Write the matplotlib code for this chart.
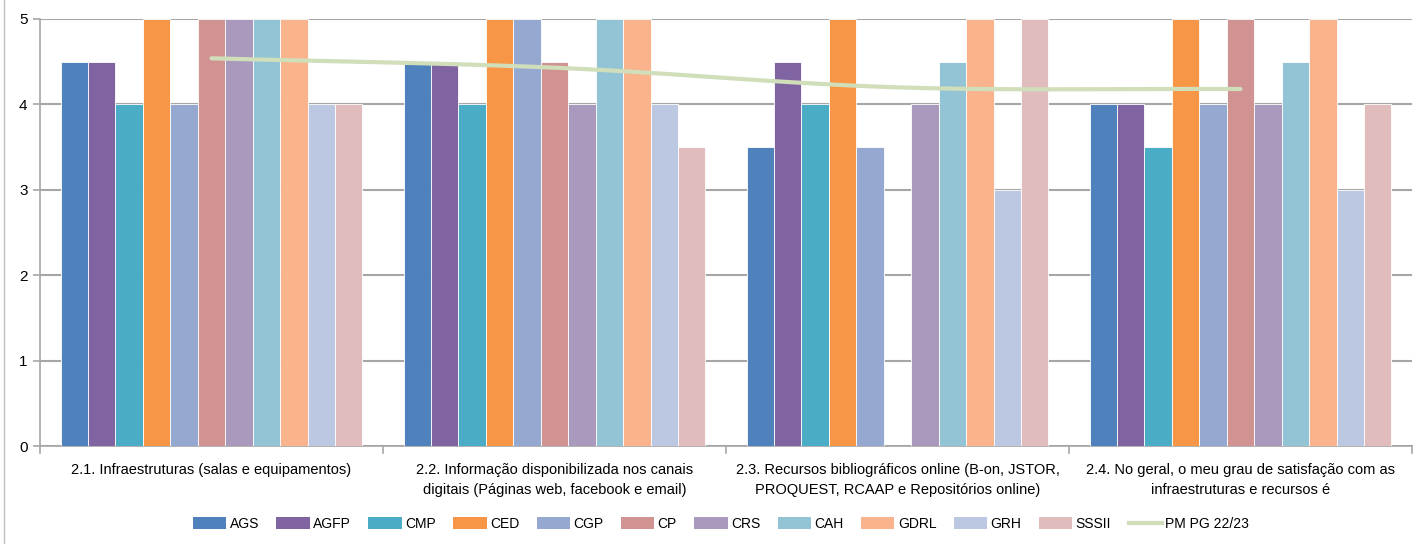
import numpy as np
import matplotlib
matplotlib.use("Agg")
import matplotlib.pyplot as plt
from matplotlib.lines import Line2D
from matplotlib.patches import Patch

categories = [
    "2.1. Infraestruturas (salas e equipamentos)",
    "2.2. Informação disponibilizada nos canais\ndigitais (Páginas web, facebook e email)",
    "2.3. Recursos bibliográficos online (B-on, JSTOR,\nPROQUEST, RCAAP e Repositórios online)",
    "2.4. No geral, o meu grau de satisfação com as\ninfraestruturas e recursos é",
]
series_names = ["AGS", "AGFP", "CMP", "CED", "CGP", "CP", "CRS", "CAH", "GDRL", "GRH", "SSSII"]
AGS = [4.5, 4.5, 3.5, 4.0]
AGFP = [4.5, 4.5, 4.5, 4.0]
CMP = [4.0, 4.0, 4.0, 3.5]
CED = [5.0, 5.0, 5.0, 5.0]
CGP = [4.0, 5.0, 3.5, 4.0]
CP = [5.0, 4.5, 0.0, 5.0]
CRS = [5.0, 4.0, 4.0, 4.0]
CAH = [5.0, 5.0, 4.5, 4.5]
GDRL = [5.0, 5.0, 5.0, 5.0]
GRH = [4.0, 4.0, 3.0, 3.0]
SSSII = [4.0, 3.5, 5.0, 4.0]
pm_label = "PM PG 22/23"
pm_values = [4.54, 4.43, 4.20, 4.18]

series = [AGS, AGFP, CMP, CED, CGP, CP, CRS, CAH, GDRL, GRH, SSSII]
colors = ["#4F81BD", "#8064A2", "#4BACC6", "#F79646", "#95A9D0", "#D19392",
          "#A99ABD", "#93C4D6", "#F9B48E", "#BCC8E1", "#E0BCBC"]
line_color = "#D0DEBA"

plt.rcParams['font.family'] = ['Liberation Sans', 'DejaVu Sans']

fig = plt.figure(figsize=(14.14, 5.44), dpi=100)
ax = fig.add_axes([40/1414, 1-446/544, (1412-40)/1414, (446-19)/544])

n = len(series)
bw = 0.08
x = np.arange(len(categories))
for i, (vals, c) in enumerate(zip(series, colors)):
    offs = (i - (n - 1) / 2) * bw
    ax.bar(x + offs, vals, width=bw, color=c, edgecolor="white", linewidth=0.6,
           zorder=3, label=series_names[i])

# smoothed line (Catmull-Rom through the data points)
px = np.array(x, dtype=float)
py = np.array(pm_values)
xs, ys = [], []
P = np.vstack([px, py]).T
Pext = np.vstack([P[0] - (P[1] - P[0]), P, P[-1] + (P[-1] - P[-2])])
for k in range(1, len(Pext) - 2):
    p0, p1, p2, p3 = Pext[k - 1], Pext[k], Pext[k + 1], Pext[k + 2]
    t = np.linspace(0, 1, 30)[:, None]
    seg = 0.5 * ((2 * p1) + (-p0 + p2) * t + (2 * p0 - 5 * p1 + 4 * p2 - p3) * t ** 2
                 + (-p0 + 3 * p1 - 3 * p2 + p3) * t ** 3)
    xs.extend(seg[:, 0]); ys.extend(seg[:, 1])
ax.plot(xs, ys, color=line_color, linewidth=3.0, solid_capstyle="round", zorder=4)

ax.set_xlim(-0.5, len(categories) - 0.5)
ax.set_ylim(0, 5)
ax.set_yticks([0, 1, 2, 3, 4, 5])
ax.tick_params(axis='y', labelsize=11, length=5, color="#A6A6A6", width=1.2, pad=4)
ax.yaxis.grid(True, color="#A6A6A6", linewidth=1.5, zorder=0)
ax.set_axisbelow(True)

ax.set_xticks(x)
ax.set_xticklabels(categories, fontsize=10.5, linespacing=1.6)
ax.tick_params(axis='x', length=0, pad=12)
for b in np.arange(-0.5, len(categories) + 0.5, 1.0):
    ax.plot([b, b], [0, -0.08], color="#A6A6A6", linewidth=1.2, clip_on=False, zorder=2)

for s in ["top", "right"]:
    ax.spines[s].set_visible(False)
ax.spines["left"].set_color("#A6A6A6")
ax.spines["left"].set_linewidth(1.2)
ax.spines["bottom"].set_color("#A6A6A6")
ax.spines["bottom"].set_linewidth(1.2)

handles = [Patch(facecolor=c, edgecolor="none") for c in colors]
handles.append(Line2D([0], [0], color=line_color, linewidth=3.0))
labels = series_names + [pm_label]
fig.legend(handles, labels, loc="center", bbox_to_anchor=(721/1414, 1-524/544),
           ncol=len(labels), frameon=False, fontsize=10, handlelength=2.4,
           handleheight=0.9, handletextpad=0.25, columnspacing=1.25)

# chart border
fig.add_artist(plt.Rectangle((4/1414, -0.01), 1.02, 1.02, transform=fig.transFigure,
                             fill=False, edgecolor="#BFBFBF", linewidth=1.0))

fig.savefig("out.png", dpi=100)
